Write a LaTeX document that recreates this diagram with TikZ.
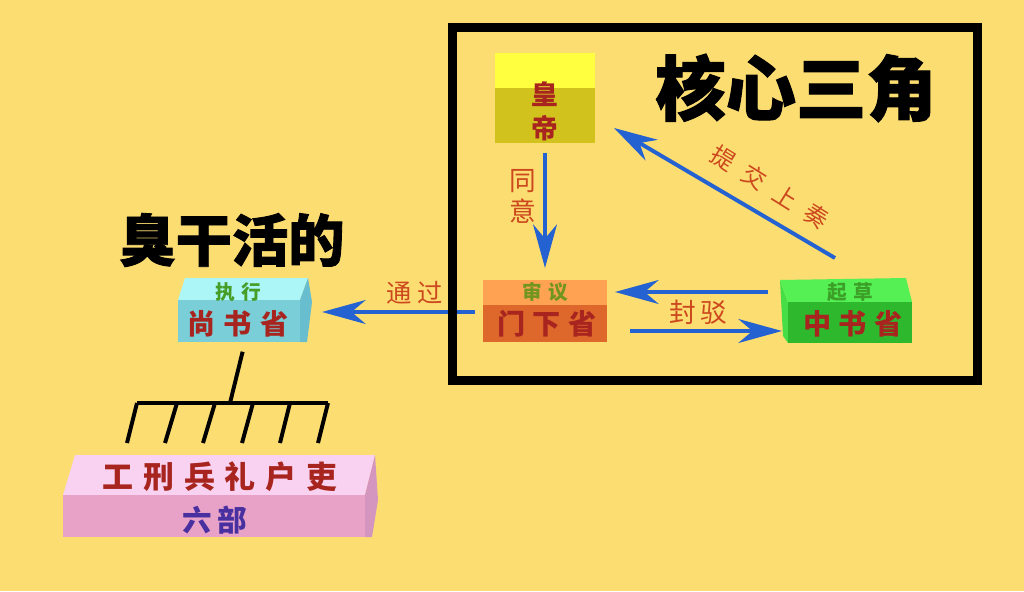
\documentclass[tikz,border=0pt]{standalone}
\usepackage{fontspec}
\newfontfamily\cjk{Noto Sans CJK SC}
\newfontfamily\cjkheavy{Noto Sans CJK SC}[BoldFeatures={FakeBold=1.5}]
\usetikzlibrary{arrows.meta,fit,calc}
\definecolor{bg}{RGB}{252,221,114}
\definecolor{arrblue}{RGB}{36,98,210}
\definecolor{hdtop}{RGB}{255,255,64}
\definecolor{hdfront}{RGB}{210,194,30}
\definecolor{mxtop}{RGB}{255,162,82}
\definecolor{mxfront}{RGB}{222,104,44}
\definecolor{zstop}{RGB}{84,240,84}
\definecolor{zsfront}{RGB}{46,184,46}
\definecolor{zsside}{RGB}{70,222,70}
\definecolor{sstop}{RGB}{172,246,248}
\definecolor{ssfront}{RGB}{122,206,216}
\definecolor{ssside}{RGB}{104,190,206}
\definecolor{lbtop}{RGB}{248,210,240}
\definecolor{lbfront}{RGB}{232,162,200}
\definecolor{lbside}{RGB}{212,150,190}
\definecolor{boxred}{RGB}{168,36,30}
\definecolor{lblred}{RGB}{204,72,30}
\definecolor{olivetxt}{RGB}{112,150,32}
\definecolor{greentxt}{RGB}{60,160,40}
\definecolor{purpletxt}{RGB}{72,48,160}
\tikzset{
  bx/.style={inner sep=0pt, outer sep=0pt},
  arr/.style={draw=arrblue, line width=2.8pt, -{Stealth[length=31pt,width=17pt,inset=10pt]}},
  main/.style={font=\cjk\bfseries\fontsize{20}{20}\selectfont, text=boxred, inner sep=0pt},
  sub/.style={font=\cjk\bfseries\fontsize{14}{14}\selectfont, inner sep=0pt},
  lbl/.style={font=\cjk\fontsize{17}{17}\selectfont, text=lblred, inner sep=0pt},
  title/.style={font=\cjkheavy\bfseries\fontsize{50}{50}\selectfont, text=black, inner sep=0pt},
  comb/.style={draw=black, line width=2.8pt},
}
\begin{document}
\begin{tikzpicture}[x=0.025cm, y=-0.025cm]
\fill[bg] (0,0) rectangle (1024,591);
\useasboundingbox (0,0) rectangle (1024,591);

% 皇帝
\fill[hdtop] (495,53) rectangle (595,88);
\fill[hdfront] (495,88) rectangle (595,143);
\node[bx, fit={(495,53)(595,143)}] (hd) {};
\node[font=\cjk\bfseries\fontsize{19}{24}\selectfont, text=boxred, align=center, inner sep=0pt] (thd) at (545,111) {皇\\帝};

% 门下省
\fill[mxtop] (483,280) rectangle (607,305);
\fill[mxfront] (483,305) rectangle (607,342);
\node[bx, fit={(483,280)(607,342)}] (mx) {};
\node[sub, text=olivetxt] (tmx1) at (545,292) {审\hspace{4.5pt}议};
\node[main] (tmx2) at (547,324) {门\hspace{5pt}下\hspace{5pt}省};

% 中书省
\fill[zsside] (780,280) -- (788,303) -- (788,343) -- (783,336) -- cycle;
\fill[zstop] (780,280) -- (906,278) -- (912,302) -- (788,303) -- cycle;
\fill[zsfront] (788,302) rectangle (912,343);
\node[bx, fit={(780,279)(912,343)}] (zs) {};
\node[sub, text=greentxt] (tzs1) at (850,292) {起\hspace{4.5pt}草};
\node[main] (tzs2) at (853,324) {中\hspace{5pt}书\hspace{5pt}省};

% 尚书省
\fill[sstop] (185,278) -- (308,278) -- (300,300) -- (178,300) -- cycle;
\fill[ssfront] (178,300) rectangle (300,342);
\fill[ssside] (300,300) -- (308,278) -- (312,302) -- (307,342) -- (300,342) -- cycle;
\node[bx, fit={(178,278)(312,342)}] (ss) {};
\node[sub, text=greentxt!80!olivetxt] (tss1) at (238,292) {执\hspace{4.5pt}行};
\node[main] (tss2) at (238,324) {尚\hspace{6pt}书\hspace{6pt}省};

% 六部
\fill[lbtop] (75,455) -- (375,455) -- (365,495) -- (63,495) -- cycle;
\fill[lbfront] (63,495) rectangle (365,537);
\fill[lbside] (365,495) -- (375,455) -- (378,500) -- (372,537) -- (365,537) -- cycle;
\node[bx, fit={(63,455)(378,537)}] (lb) {};
\node[main, font=\cjk\bfseries\fontsize{22}{22}\selectfont] (tlb1) at (220,477) {工\hspace{7pt}刑\hspace{7pt}兵\hspace{7pt}礼\hspace{7pt}户\hspace{7pt}吏};
\node[main, text=purpletxt, font=\cjk\bfseries\fontsize{21}{21}\selectfont] (tlb2) at (215,520) {六\hspace{4pt}部};

% comb from 尚书省 to 六部
\coordinate (bar) at (230,403);
\draw[comb, shorten <=0.25cm] (ss.south) -- (bar);
\draw[comb] (137,403) -- (328,403);
\draw[comb] (137,403) -- (127,443);
\draw[comb] (177,403) -- (165,443);
\draw[comb] (215,403) -- (203,443);
\draw[comb] (253,403) -- (242,443);
\draw[comb] (290,403) -- (280,443);
\draw[comb] (328,403) -- (318,443);

% arrows
\draw[arr, shorten <=0.25cm, shorten >=0.3cm] (hd.south) -- (mx.north);
\node[lbl, align=center, font=\cjk\fontsize{19}{22}\selectfont] (lty) at (523,196) {同\\意};
\draw[arr] ($(zs.west)+(-12,-19)$) -- ($(mx.east)+(8,-19)$);
\draw[arr] ($(mx.east)+(23,20)$) -- ($(zs.west)+(2,20)$);
\node[lbl, font=\cjk\fontsize{19}{19}\selectfont] (lfb) at (698,312) {封\hspace{3pt}驳};
\draw[arr] ($(zs.north)+(-11,-21)$) -- ($(hd.south east)+(19,-15)$);
\node[lbl, rotate=-32] (ltj) at (770,187) {提\hspace{9pt}交\hspace{9pt}上\hspace{9pt}奏};
\draw[arr] ($(mx.west)+(-8,1)$) -- ($(ss.east)+(10,2)$);
\node[lbl, font=\cjk\fontsize{18}{18}\selectfont] (ltg) at (415,293) {通\hspace{4pt}过};

% frame
\node[draw=black, line width=6.4pt, inner sep=0pt, fit={(452,28)(977,380)}] (core) {};

% titles
\node[title] (t1) at (796,88) {核心三角};
\node[title, font=\cjkheavy\bfseries\fontsize{40}{40}\selectfont] (t2) at (232,240) {臭干活的};
\end{tikzpicture}
\end{document}
